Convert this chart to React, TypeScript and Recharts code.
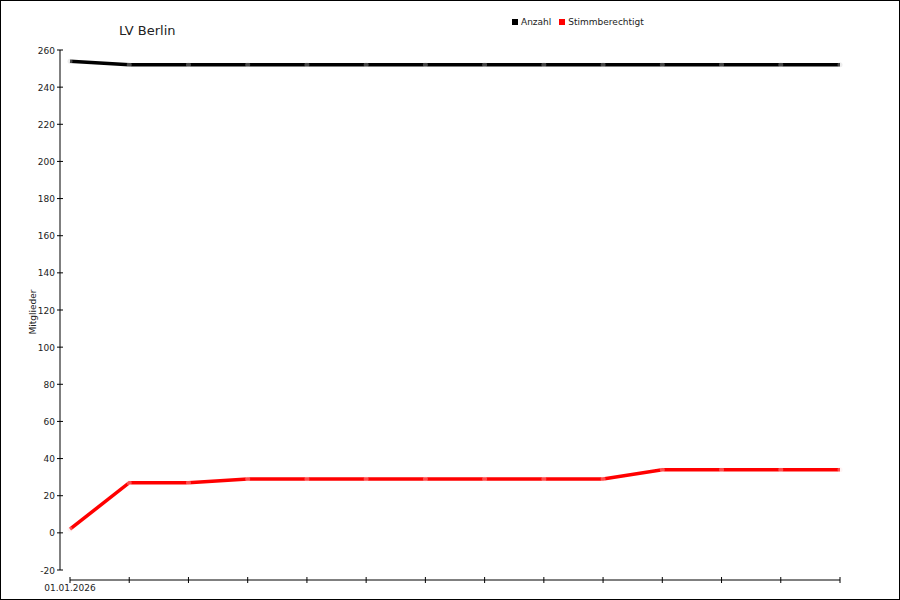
import { Line, LineChart, ReferenceLine, XAxis, YAxis } from "recharts";

const dates = [
  "01.01.2026",
  "02.01.2026",
  "03.01.2026",
  "04.01.2026",
  "05.01.2026",
  "06.01.2026",
  "07.01.2026",
  "08.01.2026",
  "09.01.2026",
  "10.01.2026",
  "11.01.2026",
  "12.01.2026",
  "13.01.2026",
  "14.01.2026",
];
const anzahl = [254, 252, 252, 252, 252, 252, 252, 252, 252, 252, 252, 252, 252, 252];
const stimmberechtigt = [2, 27, 27, 29, 29, 29, 29, 29, 29, 29, 34, 34, 34, 34];
const yTicks = [-20, 0, 20, 40, 60, 80, 100, 120, 140, 160, 180, 200, 220, 240, 260];

const FONT = "'DejaVu Sans', Verdana, sans-serif";
const INK = "#222";
const AXIS_GAP = 10;

const rows = dates.map((date, i) => ({
  date,
  anzahl: anzahl[i],
  stimmberechtigt: stimmberechtigt[i],
}));

function YTick(props: any) {
  const { x, y, payload } = props;
  return (
    <g>
      <line x1={x - 3} x2={x + 3} y1={y} y2={y} stroke="#000" />
      <text x={x - 5} y={y} dy={3.5} textAnchor="end" fontSize={9} fontFamily={FONT} fill={INK}>
        {payload.value}
      </text>
    </g>
  );
}

function XTick(props: any) {
  const { x, y, payload, index } = props;
  return (
    <g>
      <line x1={x} x2={x} y1={y + AXIS_GAP - 3} y2={y + AXIS_GAP + 3} stroke="#000" />
      {index === 0 && (
        <text x={x} y={y + 21} textAnchor="middle" fontSize={9} fontFamily={FONT} fill={INK}>
          {payload.value}
        </text>
      )}
    </g>
  );
}

function ShiftedAxis(props: any) {
  const { x1, y1, x2, y2 } = props;
  return <line x1={x1} y1={y1 + AXIS_GAP} x2={x2} y2={y2 + AXIS_GAP} stroke="#000" />;
}

export default function App() {
  return (
    <div style={{ position: "absolute", left: 0, top: 0, width: 900, height: 600, background: "#fff" }}>
      <LineChart width={900} height={600} data={rows} margin={{ top: 50, right: 50, bottom: 0, left: 0 }}>
        <XAxis
          dataKey="date"
          padding={{ left: 10, right: 10 }}
          axisLine={false}
          tickLine={false}
          tickSize={0}
          tickMargin={0}
          height={30}
          interval={0}
          tick={XTick}
        />
        <YAxis
          width={60}
          domain={[-20, 260]}
          ticks={yTicks}
          interval={0}
          axisLine={{ stroke: "#000" }}
          tickLine={false}
          tickSize={0}
          tickMargin={0}
          tick={YTick}
          label={(p: any) => {
            const vb = p.viewBox;
            const cx = 33;
            const cy = vb.y + vb.height / 2 + 2;
            return (
              <text
                x={cx}
                y={cy}
                transform={`rotate(-90 ${cx} ${cy})`}
                textAnchor="middle"
                dominantBaseline="central"
                fontSize={9}
                fontFamily={FONT}
                fill={INK}
              >
                Mitglieder
              </text>
            );
          }}
        />
        <ReferenceLine
          segment={[
            { x: dates[0], y: -20 },
            { x: dates[dates.length - 1], y: -20 },
          ]}
          ifOverflow="visible"
          shape={ShiftedAxis}
        />
        <Line
          type="linear"
          dataKey="anzahl"
          stroke="#000"
          strokeWidth={3.5}
          dot={{ r: 2.5, fill: "#ccc", fillOpacity: 0.35, stroke: "none" }}
          activeDot={false}
          isAnimationActive={false}
        />
        <Line
          type="linear"
          dataKey="stimmberechtigt"
          stroke="#f00"
          strokeWidth={3.5}
          dot={{ r: 2.5, fill: "#fdd", fillOpacity: 0.35, stroke: "none" }}
          activeDot={false}
          isAnimationActive={false}
        />
      </LineChart>
      <div
        style={{
          position: "absolute",
          left: 119,
          top: 23,
          fontFamily: FONT,
          fontSize: 13,
          color: INK,
          lineHeight: "16px",
          whiteSpace: "nowrap",
        }}
      >
        LV Berlin
      </div>
      <div
        style={{
          position: "absolute",
          left: 512,
          top: 16,
          display: "flex",
          alignItems: "center",
          fontFamily: FONT,
          fontSize: 9,
          color: INK,
          lineHeight: "12px",
          whiteSpace: "nowrap",
        }}
      >
        <span style={{ width: 6, height: 6, background: "#000", marginRight: 3 }} />
        <span style={{ marginRight: 8 }}>Anzahl</span>
        <span style={{ width: 6, height: 6, background: "#f00", marginRight: 3 }} />
        <span>Stimmberechtigt</span>
      </div>
      <div
        style={{
          position: "absolute",
          left: 0,
          top: 0,
          width: 900,
          height: 600,
          boxSizing: "border-box",
          border: "1px solid #000",
          pointerEvents: "none",
        }}
      />
    </div>
  );
}
